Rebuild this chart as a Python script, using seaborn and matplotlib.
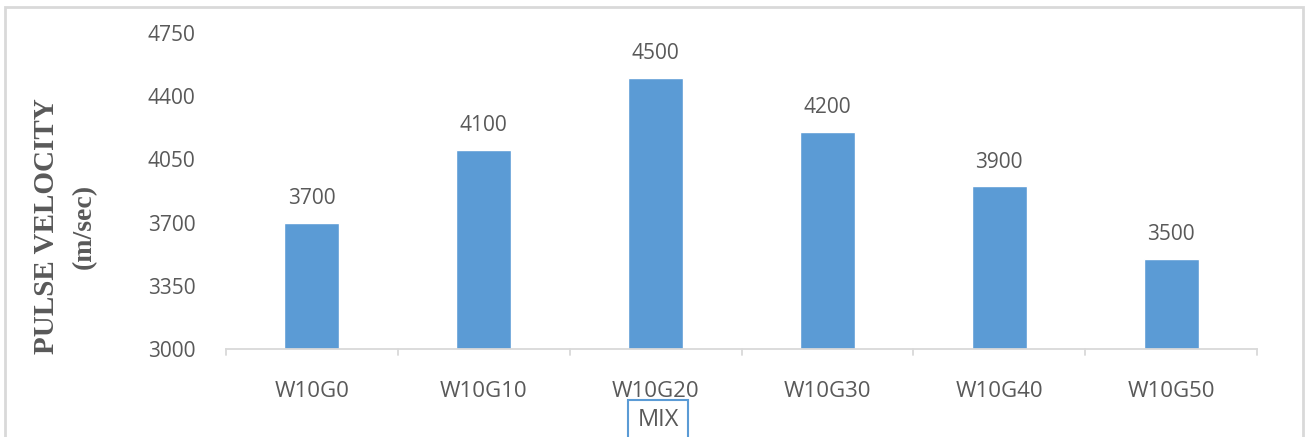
import matplotlib
matplotlib.use("Agg")
import matplotlib.pyplot as plt
import seaborn as sns
import pandas as pd
from matplotlib.patches import Rectangle

# Ultrasonic pulse velocity for each mix
mixes = ["W10G0", "W10G10", "W10G20", "W10G30", "W10G40", "W10G50"]
velocity = [3700, 4100, 4500, 4200, 3900, 3500]
y_ticks = [3000, 3350, 3700, 4050, 4400, 4750]

df = pd.DataFrame({"MIX": mixes, "Velocity": velocity})

sns.set_theme(style="white")
plt.rcParams["font.family"] = ["Open Sans", "DejaVu Sans"]

text_color = "#595959"
bar_color = "#5B9BD5"
axis_color = "#D9D9D9"

fig = plt.figure(figsize=(13.05, 4.37), dpi=100)
ax = fig.add_axes([0.1732, 0.2014, 0.9632 - 0.1732, 0.9245 - 0.2014])

sns.barplot(data=df, x="MIX", y="Velocity", color=bar_color, width=0.32,
            saturation=1, ax=ax)

ax.set_ylim(3000, 4750)
ax.set_xlim(-0.5, len(mixes) - 0.5)
ax.set_yticks(y_ticks)
ax.set_yticklabels([str(t) for t in y_ticks], fontsize=15, color=text_color)
ax.set_xticks(range(len(mixes)))
ax.set_xticklabels(mixes, fontsize=16, color=text_color)
ax.tick_params(axis="y", length=0, pad=22)
ax.tick_params(axis="x", length=0, pad=23)

for s in ["top", "right", "left"]:
    ax.spines[s].set_visible(False)
ax.spines["bottom"].set_color(axis_color)
ax.spines["bottom"].set_linewidth(1.3)

# category boundary ticks below the baseline
for b in [i - 0.5 for i in range(len(mixes) + 1)]:
    ax.plot([b, b], [0, -0.02], transform=ax.get_xaxis_transform(),
            color=axis_color, lw=1.3, clip_on=False)

# value labels above bars
for i, v in enumerate(velocity):
    ax.annotate(str(v), (i, v), xytext=(0, 10), textcoords="offset points",
                ha="center", va="bottom", fontsize=15, color=text_color)

ax.set_ylabel("")
ax.set_xlabel("")

# y-axis title in two lines
fig.text(47 / 1305, 1 - 226 / 437, "PULSE VELOCITY", rotation=90,
         ha="center", va="center", fontsize=21, fontweight="bold",
         family="Liberation Serif", color=text_color)
fig.text(84 / 1305, 1 - 226 / 437, "(m/sec)", rotation=90,
         ha="center", va="center", fontsize=20, fontweight="bold",
         family="Liberation Serif", color=text_color)

# x-axis title with a framed box
fig.text(658 / 1305, 1 - 420 / 437, "MIX", ha="center", va="center",
         fontsize=17, color=text_color)
fig.add_artist(Rectangle((628 / 1305, -0.05), 60 / 1305, (437 - 400) / 437 + 0.05,
                         transform=fig.transFigure, fill=False,
                         edgecolor=bar_color, lw=1.5))

# outer chart border
fig.add_artist(Rectangle((5 / 1305, -0.05), (1303 - 5) / 1305, (437 - 7) / 437 + 0.05,
                         transform=fig.transFigure, fill=False,
                         edgecolor=axis_color, lw=2))

fig.savefig("out.png", dpi=100)
